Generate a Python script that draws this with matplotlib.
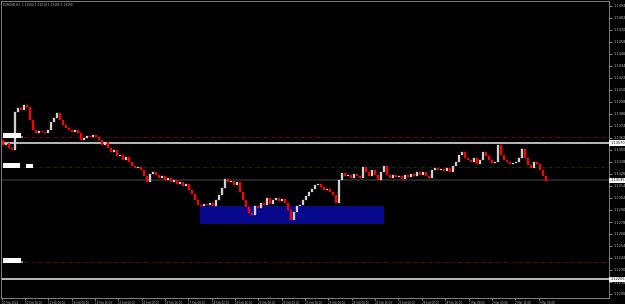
import matplotlib
matplotlib.use("Agg")
import matplotlib.pyplot as plt
import matplotlib.transforms as mtransforms
from matplotlib.patches import Rectangle
import numpy as np

# ---------------------------------------------------------------------------
#  Data
# ---------------------------------------------------------------------------
SYMBOL_TITLE = "EURUSD,H1  1.13204 1.13214 1.13185 1.13190"

FIRST_OPEN = 1.1360
CLOSES = [
    1.1355, 1.1357, 1.1352, 1.1350, 1.1388, 1.1392, 1.1390, 1.1395, 1.1393, 1.1380,
    1.1370, 1.1367, 1.1369, 1.1368, 1.1367, 1.1370, 1.1378, 1.1382, 1.1387, 1.1380,
    1.1375, 1.1372, 1.1370, 1.1368, 1.1370, 1.1367, 1.1360, 1.1362, 1.1364, 1.1363,
    1.1365, 1.1363, 1.1360, 1.1355, 1.1358, 1.1352, 1.1348, 1.1350, 1.1344, 1.1345,
    1.1340, 1.1343, 1.1338, 1.1334, 1.1332, 1.1333, 1.1330, 1.1324, 1.1318, 1.1326,
    1.1328, 1.1325, 1.1322, 1.1324, 1.1320, 1.1322, 1.1318, 1.1320, 1.1316, 1.1318,
    1.1314, 1.1316, 1.1310, 1.1306, 1.1300, 1.1295, 1.1294, 1.1296, 1.1295, 1.1297,
    1.1294, 1.1300, 1.1305, 1.1312, 1.1321, 1.1318, 1.1319, 1.1315, 1.1318, 1.1308,
    1.1300, 1.1293, 1.1287, 1.1285, 1.1294, 1.1292, 1.1297, 1.1295, 1.1302, 1.1296,
    1.1300, 1.1302, 1.1299, 1.1301, 1.1297, 1.1290, 1.1280, 1.1288, 1.1294, 1.1295,
    1.1300, 1.1304, 1.1308, 1.1311, 1.1315, 1.1316, 1.1313, 1.1310, 1.1311, 1.1308,
    1.1305, 1.1297, 1.1320, 1.1327, 1.1324, 1.1325, 1.1322, 1.1326, 1.1324, 1.1322,
    1.1333, 1.1328, 1.1324, 1.1330, 1.1325, 1.1320, 1.1328, 1.1334, 1.1325, 1.1322,
    1.1325, 1.1323, 1.1324, 1.1321, 1.1325, 1.1323, 1.1326, 1.1324, 1.1328, 1.1325,
    1.1328, 1.1324, 1.1322, 1.1330, 1.1332, 1.1330, 1.1331, 1.1329, 1.1332, 1.1328,
    1.1334, 1.1338, 1.1345, 1.1348, 1.1342, 1.1340, 1.1338, 1.1342, 1.1336, 1.1340,
    1.1348, 1.1344, 1.1340, 1.1337, 1.1338, 1.1355, 1.1345, 1.1340, 1.1338, 1.1336,
    1.1337, 1.1338, 1.1342, 1.1351, 1.1342, 1.1335, 1.1332, 1.1338, 1.1336, 1.1330,
    1.1324, 1.1319,
]

# horizontal levels
LEVEL_LIGHT = [1.1357, 1.12205]        # solid light lines
LEVEL_BID = 1.13195                    # dark solid line
LEVEL_RED = [1.1363, 1.1238]           # dash-dot red
LEVEL_GREEN = [1.1333]                 # dash-dot green
ZONE_BARS = (65.7, 127.0)              # blue zone, bar index range
ZONE_PRICE = (1.1276, 1.1294)

PRICE_TICKS = [round(1.1494 - 0.0012 * k, 4) for k in range(25)]

DATE_LABELS = [
    "10 Feb 2022", "10 Feb 16:00", "11 Feb 08:00", "14 Feb 00:00", "14 Feb 16:00",
    "15 Feb 08:00", "16 Feb 00:00", "16 Feb 16:00", "17 Feb 08:00", "18 Feb 00:00",
    "18 Feb 16:00", "21 Feb 08:00", "22 Feb 00:00", "22 Feb 16:00", "23 Feb 08:00",
    "24 Feb 00:00", "24 Feb 16:00", "25 Feb 08:00", "28 Feb 00:00", "28 Feb 16:00",
    "1 Mar 08:00", "2 Mar 00:00", "2 Mar 16:00", "3 Mar 08:00",
]

# ---------------------------------------------------------------------------
#  Style
# ---------------------------------------------------------------------------
BG = "#000000"
AXIS_COL = "#808080"
TXT_COL = "#C0C0C0"
BULL = "#D0D0D0"
BEAR = "#FF0000"
FS_Y = 2.5
FS_X = 1.9
FS_T = 2.1

fig = plt.figure(figsize=(6.25, 3.04), dpi=100, facecolor=BG)
ax = fig.add_axes([1 / 625, 6 / 304, 608 / 625, 297 / 304], facecolor=BG)

closes = np.array(CLOSES)
opens = np.concatenate([[FIRST_OPEN], closes[:-1]])
idx = np.arange(len(closes))

# blue zone
ax.add_patch(Rectangle((ZONE_BARS[0], ZONE_PRICE[0]), ZONE_BARS[1] - ZONE_BARS[0],
                       ZONE_PRICE[1] - ZONE_PRICE[0], facecolor="#08088C",
                       edgecolor="none", zorder=1))

# levels
for p in LEVEL_RED:
    ax.axhline(p, color="#7A0A0A", lw=0.6, ls=(0, (4, 2, 1, 2)), zorder=1.5)
for p in LEVEL_GREEN:
    ax.axhline(p, color="#0E3E0E", lw=0.6, ls=(0, (4, 2, 1, 2)), zorder=1.5)
for p in LEVEL_LIGHT:
    ax.axhline(p, color="#C8C8C8", lw=1.3, zorder=1.5)
ax.axhline(LEVEL_BID, color="#2C2C32", lw=1.2, zorder=1.5)

# candles
up = closes >= opens
body = np.where(np.abs(closes - opens) < 0.00005, 0.00005, closes - opens)
ax.bar(idx[up], body[up], bottom=opens[up], width=0.6, color=BULL,
       edgecolor=BULL, linewidth=0.2, zorder=2)
ax.bar(idx[~up], body[~up], bottom=opens[~up], width=0.6, color=BEAR,
       edgecolor=BEAR, linewidth=0.2, zorder=2)

# left object labels (white tags)
for p in LEVEL_RED:
    ax.add_patch(Rectangle((0.0, p - 0.0001), 6.0, 0.0005, facecolor="white",
                           edgecolor="none", zorder=3))
    ax.add_patch(Rectangle((6.0, p - 0.0001), 0.7, 0.0002, facecolor="#808080",
                           edgecolor="none", zorder=3))
for p in LEVEL_GREEN:
    ax.add_patch(Rectangle((0.0, p - 0.0001), 5.7, 0.0005, facecolor="white",
                           edgecolor="none", zorder=3))
    ax.add_patch(Rectangle((7.7, p - 0.0001), 2.3, 0.0004, facecolor="white",
                           edgecolor="none", zorder=3))

# axes limits
ax.set_xlim(-0.67, 202)
ax.set_ylim(1.1202, 1.1499)

# price axis (right)
ax.yaxis.tick_right()
ax.set_yticks(PRICE_TICKS)
ax.set_yticklabels([f"{v:.4f}" for v in PRICE_TICKS])
ax.tick_params(axis="y", colors=TXT_COL, labelsize=FS_Y, length=2, width=0.5, pad=1)

# time axis
tick_pos = -0.43 + 7.78 * np.arange(len(DATE_LABELS))
ax.set_xticks(tick_pos)
ax.set_xticklabels(DATE_LABELS, ha="left")
ax.tick_params(axis="x", colors=TXT_COL, labelsize=FS_X, length=1.5, width=0.5, pad=0.5)

for s in ax.spines.values():
    s.set_color(AXIS_COL)
    s.set_linewidth(0.7)

# highlighted price tags on the right axis
trans = mtransforms.blended_transform_factory(ax.transAxes, ax.transData)
for p in LEVEL_LIGHT + [LEVEL_BID]:
    ax.text(1.002, p, f"{p:.5f}", transform=trans, fontsize=FS_Y, color="black",
            va="center", ha="left", clip_on=False, zorder=5,
            bbox=dict(boxstyle="square,pad=0.25", facecolor="white", edgecolor="none"))

ax.text(0.004, 0.993, SYMBOL_TITLE, transform=ax.transAxes, fontsize=FS_T,
        color=TXT_COL, va="top", ha="left")

fig.savefig("out.png", dpi=100, facecolor=BG)
